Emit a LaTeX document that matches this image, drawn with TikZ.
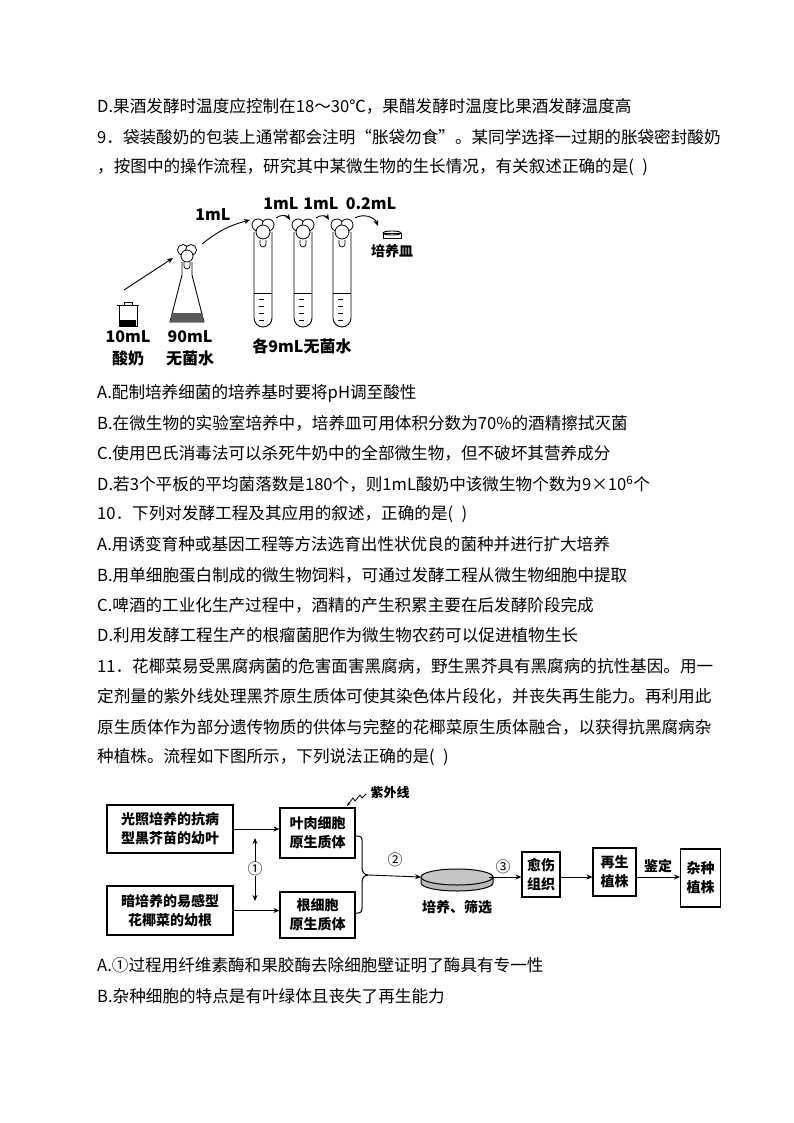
\documentclass[tikz,border=0pt]{standalone}
\usepackage{fontspec}
\setmainfont{Noto Sans CJK SC}
\usetikzlibrary{arrows.meta}
\begin{document}
\begin{tikzpicture}[x=1pt,y=-1pt,
  txt/.style={anchor=west,inner sep=0pt,font=\fontsize{16.6}{18}\selectfont},
  lab/.style={inner sep=0pt,font=\fontsize{16}{18}\selectfont\bfseries},
  fbox/.style={draw,line width=1.1pt,align=center,inner sep=0pt,font=\fontsize{14}{19}\selectfont\bfseries},
  arr/.style={-{Stealth[length=6pt,width=5pt]},line width=0.9pt},
  cot/.style={fill=white,draw,line width=0.8pt}]
\useasboundingbox (0,0) rectangle (794,1123);
\foreach \y/\t in {106/{D.果酒发酵时温度应控制在18～30℃，果醋发酵时温度比果酒发酵温度高},
137/{9．袋装酸奶的包装上通常都会注明“胀袋勿食”。某同学选择一过期的胀袋密封酸奶},
167/{，按图中的操作流程，研究其中某微生物的生长情况，有关叙述正确的是(\,\,\,)},
393/{A.配制培养细菌的培养基时要将pH调至酸性},
423/{B.在微生物的实验室培养中，培养皿可用体积分数为70\%的酒精擦拭灭菌},
453/{C.使用巴氏消毒法可以杀死牛奶中的全部微生物，但不破坏其营养成分},
484/{D.若3个平板的平均菌落数是180个，则1mL酸奶中该微生物个数为9×10\textsuperscript{6}个},
514/{10．下列对发酵工程及其应用的叙述，正确的是(\,\,\,)},
544/{A.用诱变育种或基因工程等方法选育出性状优良的菌种并进行扩大培养},
575/{B.用单细胞蛋白制成的微生物饲料，可通过发酵工程从微生物细胞中提取},
605/{C.啤酒的工业化生产过程中，酒精的产生积累主要在后发酵阶段完成},
635/{D.利用发酵工程生产的根瘤菌肥作为微生物农药可以促进植物生长},
666/{11．花椰菜易受黑腐病菌的危害面害黑腐病，野生黑芥具有黑腐病的抗性基因。用一},
696/{定剂量的紫外线处理黑芥原生质体可使其染色体片段化，并丧失再生能力。再利用此},
727/{原生质体作为部分遗传物质的供体与完整的花椰菜原生质体融合，以获得抗黑腐病杂},
757/{种植株。流程如下图所示，下列说法正确的是(\,\,\,)},
965/{A.①过程用纤维素酶和果胶酶去除细胞壁证明了酶具有专一性},
996/{B.杂种细胞的特点是有叶绿体且丧失了再生能力}}
  \node[txt] at (97,\y) {\t};
% ---------- figure 1 ----------
\draw[line width=0.9pt] (119,305) rectangle (137,326);
\draw[line width=0.9pt] (117,305) -- (139,305);
\draw[line width=0.9pt] (124,305) -- (124,302) -- (132,302) -- (132,305);
\fill (120,320) rectangle (136,326);
\node[lab] (l1a) at (128,337) {10mL};
\node[lab] (l1b) at (128,358) {酸奶};
\coordinate (pot) at (124,290);
% flask
\draw[line width=0.9pt] (182,262) -- (182,275) -- (170,322) -- (204,322) -- (192,275) -- (192,262);
\fill[gray!70!black] (172,313) -- (202,313) -- (204,322) -- (170,322) -- cycle;
\draw[cot] (183,250) circle (5.5);
\draw[cot] (191,250) circle (5.5);
\draw[cot] (187,256) circle (6);
\draw[line width=0.7pt] (184,262) -- (184,266) arc (180:0:3) -- (190,262);
\node[lab] (l2a) at (190,337) {90mL};
\node[lab] (l2b) at (190,358) {无菌水};
\coordinate (flin) at (173,258);
\coordinate (flout) at (202,244);
% tubes
\foreach \n/\cx in {1/263,2/303,3/342}{
  \draw[line width=0.9pt] (\cx-9,232) -- (\cx-9,318) arc (180:0:9) -- (\cx+9,232);
  \foreach \yy in {299,306,313,320}{
    \draw[line width=0.8pt] (\cx-4,\yy) -- (\cx+1,\yy);
  }
  \draw[line width=0.7pt] (\cx-9,293) -- (\cx+9,293);
  \draw[cot] (\cx-5,225) circle (6);
  \draw[cot] (\cx+5,225) circle (6);
  \draw[cot] (\cx,232) circle (7);
  \draw[line width=0.7pt] (\cx-3,240) -- (\cx-3,244) arc (180:0:3) -- (\cx+3,240);
  \coordinate (t\n l) at (\cx-13,220);
  \coordinate (t\n r) at (\cx+13,218);
}
\node[lab] (l3) at (302,346) {各9mL无菌水};
% dish
\draw[line width=0.9pt,fill=white] (383,233) rectangle (401,238);
\draw[line width=0.9pt] (392,233) ellipse (9 and 2);
\node[lab,font=\fontsize{14}{16}\selectfont\bfseries] (l4) at (392,251) {培养皿};
\coordinate (dish) at (378,226);
\draw[arr] (pot) -- (flin);
\draw[arr] (flout) to[bend left=12] (t1l);
\node[lab] at (213,215) {1mL};
\draw[arr] (t1r) to[bend left=50] (t2l);
\draw[arr] (t2r) to[bend left=50] (t3l);
\draw[arr] (t3r) to[bend left=50] (dish);
\node[lab] at (281,204) {1mL};
\node[lab] at (321,204) {1mL};
\node[lab] at (371,204) {0.2mL};
% ---------- figure 2 ----------
\node[fbox,minimum width=126pt,minimum height=48pt] (b1) at (170,829) {光照培养的抗病\\型黑芥苗的幼叶};
\node[fbox,minimum width=126pt,minimum height=49pt] (b2) at (170,910.5) {暗培养的易感型\\花椰菜的幼根};
\node[fbox,minimum width=75pt,minimum height=50pt] (b3) at (317.5,833) {叶肉细胞\\原生质体};
\node[fbox,minimum width=75pt,minimum height=46pt] (b4) at (317.5,915) {根细胞\\原生质体};
\draw[arr] (b1.east) -- (b3.west |- b1.east);
\draw[arr] (b2.east) -- (b4.west |- b2.east);
\coordinate (u1) at (255,838);
\coordinate (u2) at (255,901);
\node[font=\fontsize{15}{16}\selectfont,inner sep=0pt] (c1) at (255,869) {①};
\draw[arr] (c1.north) -- (u1);
\draw[arr] (c1.south) -- (u2);
\node[font=\fontsize{13}{15}\selectfont\bfseries,inner sep=0pt] (uv) at (390,793) {紫外线};
\coordinate (uvs) at (366,794);
\draw[line width=0.8pt,-{Stealth[length=4pt]}] (uvs) -- (362,798) -- (360,795) -- (355,801) -- (353,798) -- (347,806);
\coordinate (m) at (368,875);
\draw[line width=1pt] (b3.east) ++(0,3) -- ++(3,0) to[out=0,in=90] (362,848) -- (362,868) to[out=-90,in=180] (m);
\draw[line width=1pt] (b4.east) ++(0,-2) -- ++(3,0) to[out=0,in=-90] (362,902) -- (362,882) to[out=90,in=180] (m);
\coordinate (dl) at (421,877);
\draw[arr] (m) -- (dl);
\node[font=\fontsize{15}{16}\selectfont,inner sep=0pt] at (395,860) {②};
% petri dish
\fill[gray!55] (421,877) -- (421,883) arc (180:0:36 and 8) -- (493,877) arc (0:180:36 and 8);
\draw[line width=1pt] (421,877) -- (421,883) arc (180:0:36 and 8) -- (493,877);
\draw[line width=1pt,fill=gray!45] (457,877) ellipse (36 and 8);
\node[lab,font=\fontsize{14}{16}\selectfont\bfseries] (dl2) at (457,907) {培养、筛选};
\coordinate (dr) at (489,877);
\node[fbox,minimum width=38pt,minimum height=45pt] (b5) at (541,874.5) {愈伤\\组织};
\node[fbox,minimum width=43pt,minimum height=48pt] (b6) at (614.5,872) {再生\\植株};
\node[fbox,minimum width=40pt,minimum height=58pt] (b7) at (700.5,878) {杂种\\植株};
\draw[arr] (dr) -- (b5.west |- dr);
\node[font=\fontsize{15}{16}\selectfont,inner sep=0pt] at (503,867) {③};
\draw[arr] (b5.east |- 0,877) -- (b6.west |- 0,877);
\draw[arr] (b6.east |- 0,877) -- (b7.west |- 0,877);
\node[lab,font=\fontsize{14}{16}\selectfont\bfseries] at (658,866) {鉴定};
\end{tikzpicture}
\end{document}
